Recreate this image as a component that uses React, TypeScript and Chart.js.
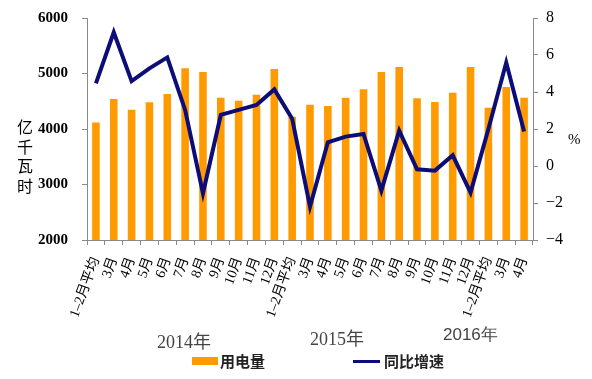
import React, { useEffect, useRef } from "react";
import { Chart, registerables } from "chart.js";

Chart.register(...registerables);

const categories = [
  "1–2月平均", "3月", "4月", "5月", "6月", "7月", "8月", "9月", "10月", "11月", "12月",
  "1–2月平均", "3月", "4月", "5月", "6月", "7月", "8月", "9月", "10月", "11月", "12月",
  "1–2月平均", "3月", "4月",
];
const consumption = [
  4115, 4540, 4348, 4481, 4630, 5094, 5027, 4564, 4510, 4618, 5081,
  4220, 4438, 4414, 4564, 4715, 5027, 5117, 4553, 4487, 4654, 5117,
  4384, 4757, 4564,
];
const growth = [
  4.47, 7.23, 4.59, 5.28, 5.87, 3.03, -1.48, 2.76, 3.03, 3.3, 4.14,
  2.56, -2.2, 1.28, 1.59, 1.73, -1.33, 1.91, -0.18, -0.25, 0.58, -1.44,
  2.0, 5.59, 1.86,
];
const leftTickValues = [2000, 3000, 4000, 5000, 6000];
const rightTickValues = [-4, -2, 0, 2, 4, 6, 8];
const yearLabels = ["2014年", "2015年", "2016年"];
const seriesNames = ["用电量", "同比增速"];
const leftTitle = ["亿", "千", "瓦", "时"];
const rightTitle = "%";

const ORANGE = "#FF9A00";
const NAVY = "#0d0d78";
const AXIS = "#8a8a8a";

export default function App() {
  const ref = useRef<HTMLCanvasElement | null>(null);

  useEffect(() => {
    if (!ref.current) return;
    const chart = new Chart(ref.current, {
      type: "bar",
      data: {
        labels: categories,
        datasets: [
          {
            type: "line",
            label: seriesNames[1],
            data: growth,
            yAxisID: "y1",
            borderColor: NAVY,
            backgroundColor: NAVY,
            borderWidth: 4,
            pointRadius: 0,
            tension: 0,
            borderJoinStyle: "miter",
            order: 0,
          } as any,
          {
            type: "bar",
            label: seriesNames[0],
            data: consumption,
            yAxisID: "y",
            backgroundColor: ORANGE,
            barPercentage: 0.85,
            categoryPercentage: 0.5,
            order: 1,
          } as any,
        ],
      },
      options: {
        animation: false,
        responsive: false,
        maintainAspectRatio: false,
        layout: { padding: { top: 18, left: 0, right: 0, bottom: 0 } },
        plugins: { legend: { display: false }, tooltip: { enabled: false } },
        scales: {
          x: {
            offset: true,
            grid: { drawOnChartArea: false, drawTicks: true, tickLength: 5, color: AXIS, offset: true },
            border: { color: AXIS, width: 1 },
            ticks: {
              autoSkip: false,
              minRotation: 70,
              maxRotation: 70,
              color: "#000",
              padding: 10,
              font: { family: "'Liberation Serif', 'Noto Sans CJK SC', serif", size: 14 },
            },
            afterFit: (s: any) => {
              s.height = 139;
            },
          },
          y: {
            position: "left",
            min: 2000,
            max: 6000,
            afterBuildTicks: (s: any) => {
              s.ticks = leftTickValues.map((v) => ({ value: v }));
            },
            grid: { drawOnChartArea: false, drawTicks: true, tickLength: 5, color: AXIS },
            border: { color: AXIS, width: 1 },
            ticks: {
              color: "#000",
              padding: 14,
              font: { family: "'Liberation Serif', serif", size: 15, weight: "bold" },
              callback: (v: any) => String(v),
            },
            afterFit: (s: any) => {
              s.width = 87;
              s.paddingTop = 6;
              s.paddingBottom = 6;
            },
          },
          y1: {
            position: "right",
            min: -4,
            max: 8,
            afterBuildTicks: (s: any) => {
              s.ticks = rightTickValues.map((v) => ({ value: v }));
            },
            grid: { drawOnChartArea: false, drawTicks: true, tickLength: 5, color: AXIS },
            border: { color: AXIS, width: 1 },
            ticks: {
              color: "#000",
              padding: 8,
              font: { family: "'Liberation Serif', serif", size: 16 },
              callback: (v: any) => String(v).replace("-", "−"),
            },
            afterFit: (s: any) => {
              s.width = 59;
              s.paddingTop = 6;
              s.paddingBottom = 6;
            },
          },
        },
      },
    });
    return () => chart.destroy();
  }, []);

  const serif = "'Liberation Serif', 'Noto Sans CJK SC', serif";
  const sansBold = "'Noto Sans CJK SC', sans-serif";

  return (
    <div style={{ position: "absolute", left: 0, top: 0, width: 592, height: 379, background: "#fff" }}>
      <canvas ref={ref} width={592} height={379} style={{ width: 592, height: 379, display: "block" }} />
      {leftTitle.map((c, i) => (
        <div
          key={c}
          style={{
            position: "absolute",
            left: 17,
            top: 119 + i * 19.5,
            fontFamily: serif,
            fontSize: 16,
            lineHeight: "18px",
            color: "#000",
          }}
        >
          {c}
        </div>
      ))}
      <div style={{ position: "absolute", left: 568, top: 131, fontFamily: serif, fontSize: 15, color: "#000" }}>
        {rightTitle}
      </div>
      <div style={{ position: "absolute", left: 157, top: 332, fontFamily: serif, fontSize: 18, lineHeight: "20px", color: "#444" }}>
        {yearLabels[0]}
      </div>
      <div style={{ position: "absolute", left: 310, top: 329, fontFamily: serif, fontSize: 18, lineHeight: "20px", color: "#444" }}>
        {yearLabels[1]}
      </div>
      <div style={{ position: "absolute", left: 443, top: 325, fontFamily: "'Liberation Sans', sans-serif", fontSize: 17, lineHeight: "20px", color: "#444" }}>
        {yearLabels[2]}
      </div>
      <div style={{ position: "absolute", left: 192, top: 357, width: 26, height: 8, background: ORANGE }} />
      <div style={{ position: "absolute", left: 220, top: 351, fontFamily: sansBold, fontWeight: "bold", fontSize: 15, lineHeight: "20px", color: "#222" }}>
        {seriesNames[0]}
      </div>
      <div style={{ position: "absolute", left: 353, top: 360, width: 27, height: 3, background: NAVY }} />
      <div style={{ position: "absolute", left: 384, top: 351, fontFamily: sansBold, fontWeight: "bold", fontSize: 15, lineHeight: "20px", color: "#222" }}>
        {seriesNames[1]}
      </div>
    </div>
  );
}
